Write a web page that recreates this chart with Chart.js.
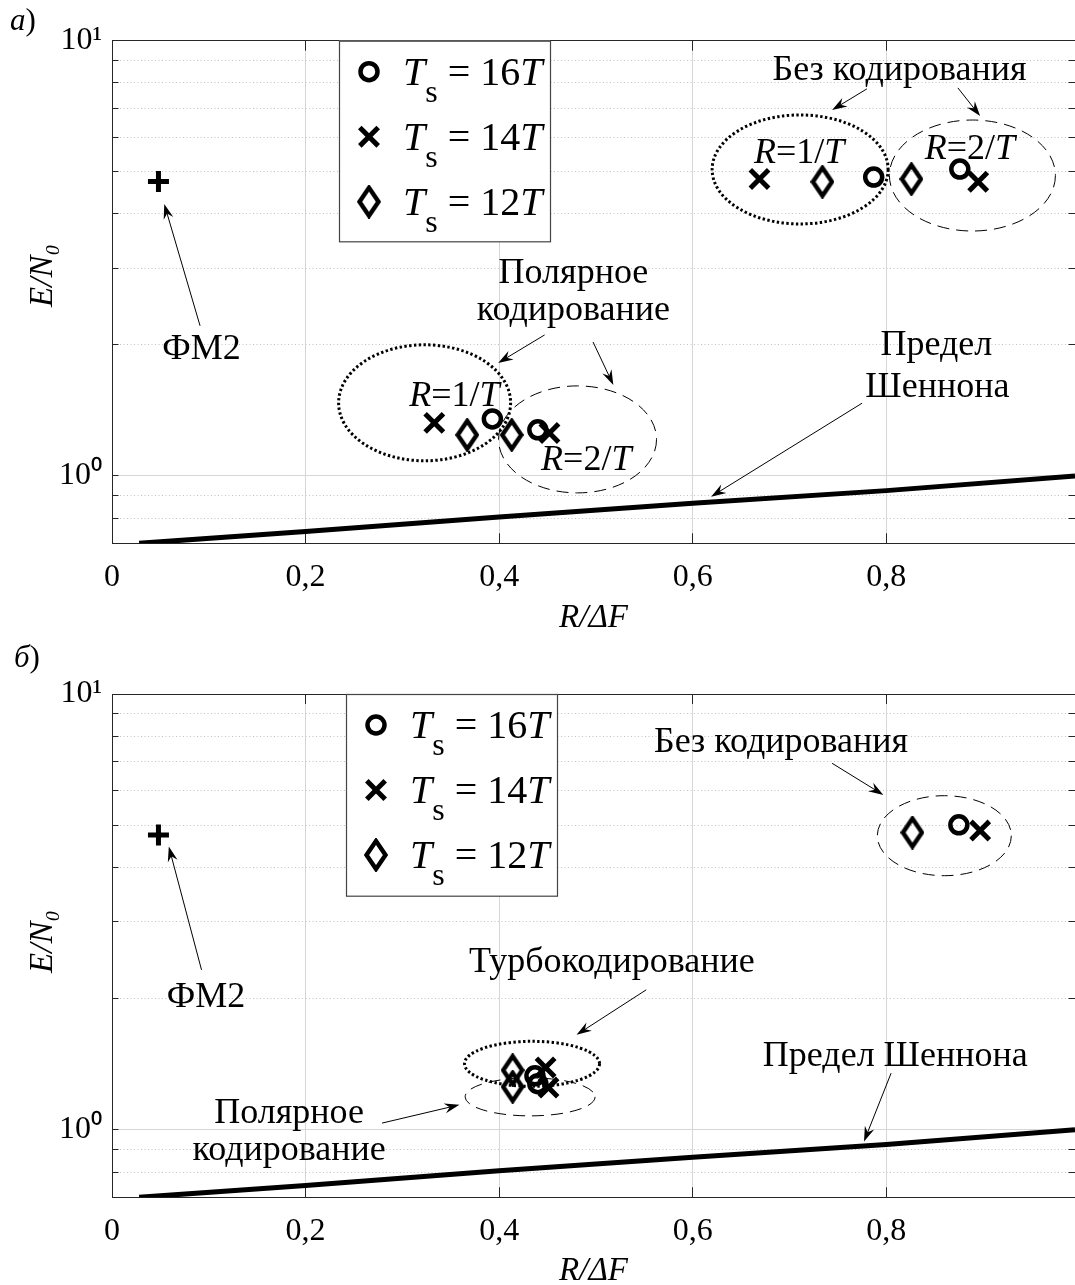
<!DOCTYPE html>
<html>
<head>
<meta charset="utf-8">
<script src="https://cdn.jsdelivr.net/npm/chart.js@4.4.0/dist/chart.umd.min.js"></script>
<style>
  body { margin: 0; background: #fff; overflow: hidden; }
  canvas { position: absolute; left: 0; }
</style>
</head>
<body>
<canvas id="chartA" width="1075" height="640" style="top:0"></canvas>
<canvas id="chartB" width="1075" height="645" style="top:640px"></canvas>
<script>
'use strict'
{
  // оси
  const xTicks = [0, 0.2, 0.4, 0.6, 0.8];
  const xTickLabels = ['0', '0,2', '0,4', '0,6', '0,8'];
  const yMajor = [1, 10];
  const yMajorLabels = ['10⁰', '10¹'];
  const yGrid = [0.8, 0.9, 1, 2, 3, 4, 5, 6, 7, 8, 9, 10];
  const legendN = [16, 14, 12];

  // ФМ2
  const bpskX = [0.048];
  const bpskY = [4.75];

  // предел Шеннона
  const shannonX = [0.028, 0.2, 0.4, 0.6, 0.8, 0.995];
  const shannonY = [0.70, 0.745, 0.805, 0.865, 0.925, 1.0];

  // а) без кодирования R=1/T, R=2/T; полярное R=1/T, R=2/T
  const rateA16 = [0.787, 0.876, 0.393, 0.440];
  const snrA16 = [4.86, 5.07, 1.352, 1.276];
  const rateA14 = [0.669, 0.895, 0.333, 0.452];
  const snrA14 = [4.81, 4.74, 1.324, 1.255];
  const rateA12 = [0.734, 0.826, 0.367, 0.413];
  const snrA12 = [4.74, 4.81, 1.242, 1.242];

  // б) без кодирования; турбо; полярное
  const rateB16 = [0.875, 0.437, 0.440];
  const snrB16 = [5.01, 1.33, 1.276];
  const rateB14 = [0.897, 0.448, 0.451];
  const snrB14 = [4.86, 1.39, 1.25];
  const rateB12 = [0.827, 0.414, 0.414];
  const snrB12 = [4.81, 1.37, 1.255];

  const SERIF = '"Liberation Serif", "Times New Roman", serif';
  const INK = '#262626';

  function diamond() {
    const c = document.createElement('canvas');
    c.width = 24; c.height = 34;
    const g = c.getContext('2d');
    g.strokeStyle = '#000';
    g.lineWidth = 4.4;
    g.beginPath();
    g.moveTo(12, 3); g.lineTo(21.5, 17); g.lineTo(12, 31); g.lineTo(2.5, 17);
    g.closePath();
    g.stroke();
    return c;
  }

  const marks = [
    {style: 'circle', r: 8.5, w: 4.5},
    {style: 'crossRot', r: 13, w: 5},
    {style: diamond(), r: 12, w: 0},
  ];
  const plus = {style: 'cross', r: 10.5, w: 5};

  function pointsOf(xs, ys) {
    return xs.map((x, i) => ({x: x, y: ys[i]}));
  }

  function markerSet(label, xs, ys, m) {
    return {
      label: label,
      data: pointsOf(xs, ys),
      showLine: false,
      pointStyle: m.style,
      pointRadius: m.r,
      pointBorderWidth: m.w,
      pointBorderColor: '#000',
      pointBackgroundColor: 'rgba(0,0,0,0)',
    };
  }

  function drawRich(ctx, x, y, segs, size, align) {
    const font = s => (s[1] ? 'italic ' : '') + (s[2] || size) + 'px ' + SERIF;
    let w = 0;
    segs.forEach(s => { ctx.font = font(s); w += ctx.measureText(s[0]).width; });
    let cx = align === 'left' ? x : x - w / 2;
    ctx.textAlign = 'left';
    ctx.textBaseline = 'alphabetic';
    segs.forEach(s => {
      ctx.font = font(s);
      ctx.fillText(s[0], cx, y + (s[3] || 0));
      cx += ctx.measureText(s[0]).width;
    });
  }

  function arrow(ctx, x1, y1, x2, y2) {
    const ang = Math.atan2(y2 - y1, x2 - x1);
    ctx.lineWidth = 1;
    ctx.beginPath();
    ctx.moveTo(x1, y1);
    ctx.lineTo(x2 - Math.cos(ang) * 9, y2 - Math.sin(ang) * 9);
    ctx.stroke();
    ctx.save();
    ctx.translate(x2, y2);
    ctx.rotate(ang);
    ctx.beginPath();
    ctx.moveTo(0, 0);
    ctx.lineTo(-15, -5);
    ctx.lineTo(-10, 0);
    ctx.lineTo(-15, 5);
    ctx.closePath();
    ctx.fill();
    ctx.restore();
  }

  const rLabel = n => [['R', 1], ['=' + n + '/'], ['T', 1]];

  function notes(cfg) {
    return {
      id: 'notes' + cfg.id,
      beforeDatasetsDraw(chart) {
        const ctx = chart.ctx;
        const xs = chart.scales.x, ys = chart.scales.y;
        ctx.save();
        ctx.strokeStyle = '#000';
        ctx.fillStyle = '#000';
        cfg.ellipses.forEach(e => {
          ctx.beginPath();
          ctx.ellipse(xs.getPixelForValue(e.x), ys.getPixelForValue(e.y), e.rx, e.ry, 0, 0, 2 * Math.PI);
          if (e.kind === 'dot') { ctx.setLineDash([2.4, 2.4]); ctx.lineWidth = 3; }
          else { ctx.setLineDash([12, 7]); ctx.lineWidth = 1; }
          ctx.stroke();
        });
        ctx.setLineDash([]);
        cfg.arrows.forEach(a => arrow(ctx,
          xs.getPixelForValue(a[0]), ys.getPixelForValue(a[1]),
          xs.getPixelForValue(a[2]), ys.getPixelForValue(a[3])));
        ctx.restore();
      },
      afterDatasetsDraw(chart) {
        const ctx = chart.ctx;
        const xs = chart.scales.x, ys = chart.scales.y;
        const area = chart.chartArea;
        ctx.save();
        ctx.fillStyle = '#000';
        cfg.texts.forEach(t => drawRich(ctx, xs.getPixelForValue(t.x), ys.getPixelForValue(t.y), t.s, 36, 'center'));

        // легенда
        const L = cfg.legend;
        const bx = area.left + L.left, by = area.top;
        ctx.fillStyle = '#fff';
        ctx.fillRect(bx, by, L.width, L.height);
        ctx.strokeStyle = '#444';
        ctx.lineWidth = 1.2;
        ctx.strokeRect(bx + 0.5, by + 0.5, L.width, L.height);
        legendN.forEach((n, i) => {
          const ry = by + 31 + 65 * i;
          const m = marks[i];
          ctx.strokeStyle = '#000';
          ctx.fillStyle = 'rgba(0,0,0,0)';
          ctx.lineWidth = m.w;
          Chart.helpers.drawPoint(ctx, {pointStyle: m.style, radius: m.r, borderWidth: m.w, rotation: 0}, bx + 30, ry);
          ctx.fillStyle = '#000';
          drawRich(ctx, bx + 64, ry + 13, [['T', 1], ['s', 0, 32, 17], [' = ' + n], ['T', 1]], 40, 'left');
        });

        drawRich(ctx, cfg.letter.x, cfg.letter.y, [[cfg.letter.t, 1], [')']], 31, 'left');
        ctx.restore();
      },
    };
  }

  function makeChart(canvasId, cfg, datasets) {
    const xMax = 0.995;
    const tickFont = {family: SERIF, size: 32, lineHeight: 1};
    const titleFont = {family: SERIF, size: 33, style: 'italic', lineHeight: 1};
    const setX = s => { s.ticks = xTicks.map(v => ({value: v})); };
    const setY = s => { s.ticks = yGrid.map(v => ({value: v, major: yMajor.includes(v)})); };
    const isMajor = c => c.tick && yMajor.includes(c.tick.value);

    return new Chart(document.getElementById(canvasId).getContext('2d'), {
      type: 'scatter',
      data: {datasets: datasets},
      options: {
        animation: false,
        responsive: false,
        events: [],
        layout: {autoPadding: false, padding: {top: cfg.top, left: 0, right: 0, bottom: 0}},
        plugins: {legend: {display: false}, tooltip: {enabled: false}},
        scales: {
          x: {
            type: 'linear', position: 'bottom', min: 0, max: xMax,
            afterBuildTicks: setX,
            afterFit: s => { s.height = cfg.xAxisH; },
            ticks: {callback: (v, i) => xTickLabels[i], font: tickFont, color: '#000', padding: 28, maxRotation: 0, autoSkip: false},
            grid: {color: '#d6d6d6', lineWidth: 1, tickLength: -10, tickColor: INK},
            border: {color: INK, width: 1},
            title: {display: true, text: 'R/ΔF', font: titleFont, color: '#000', padding: {top: 0, bottom: cfg.xTitlePad}},
          },
          x2: {
            type: 'linear', position: 'top', min: 0, max: xMax,
            afterBuildTicks: setX,
            afterFit: s => { s.height = 0; },
            ticks: {display: false},
            grid: {drawOnChartArea: false, tickLength: -10, tickColor: INK},
            border: {color: INK, width: 1},
          },
          y: {
            type: 'logarithmic', position: 'left', min: 0.7, max: 10,
            afterBuildTicks: setY,
            afterFit: s => { s.width = 112; },
            ticks: {
              callback: v => { const i = yMajor.indexOf(v); return i < 0 ? '' : yMajorLabels[i]; },
              font: tickFont, color: '#000', padding: 16.5, autoSkip: false,
            },
            grid: {color: c => isMajor(c) ? '#d6d6d6' : '#c2c2c2', lineWidth: 1, tickLength: -6.5, tickColor: INK},
            border: {color: INK, width: 1, dash: c => isMajor(c) ? [] : [1, 2.5]},
            title: {display: true, text: cfg.yTitle, font: titleFont, color: '#000', padding: {top: 26.5, bottom: 0}},
          },
          y2: {
            type: 'logarithmic', position: 'right', min: 0.7, max: 10,
            afterBuildTicks: setY,
            afterFit: s => { s.width = 0; },
            ticks: {display: false},
            grid: {drawOnChartArea: false, tickLength: -6.5, tickColor: INK},
            border: {display: false},
          },
        },
      },
      plugins: [notes(cfg)],
    });
  }

  function shannonSet() {
    return {
      label: 'Предел Шеннона',
      data: pointsOf(shannonX, shannonY),
      showLine: true,
      pointRadius: 0,
      borderColor: '#000',
      borderWidth: 5,
      tension: 0,
    };
  }

  const panelA = {
    id: 'A', top: 40.7, xAxisH: 96.7, xTitlePad: 5, yTitle: '    E/N₀',
    letter: {t: 'а', x: 10, y: 30},
    legend: {left: 227, width: 211, height: 200.6},
    ellipses: [
      {x: 0.711, y: 5.06, rx: 88, ry: 54.5, kind: 'dot'},
      {x: 0.889, y: 4.90, rx: 83, ry: 55.5, kind: 'dash'},
      {x: 0.323, y: 1.472, rx: 86, ry: 58, kind: 'dot'},
      {x: 0.481, y: 1.213, rx: 79, ry: 53.5, kind: 'dash'},
    ],
    arrows: [
      [0.780, 7.75, 0.744, 6.93],
      [0.874, 7.79, 0.897, 6.71],
      [0.447, 2.108, 0.399, 1.818],
      [0.497, 2.031, 0.518, 1.618],
      [0.091, 2.212, 0.054, 4.216],
      [0.775, 1.469, 0.619, 0.896],
    ],
    texts: [
      {x: 0.8137, y: 8.12, s: [['Без кодирования']]},
      {x: 0.710, y: 5.24, s: rLabel(1)},
      {x: 0.8864, y: 5.35, s: rLabel(2)},
      {x: 0.3538, y: 1.448, s: rLabel(1)},
      {x: 0.490, y: 1.032, s: rLabel(2)},
      {x: 0.4768, y: 2.776, s: [['Полярное']]},
      {x: 0.4768, y: 2.282, s: [['кодирование']]},
      {x: 0.0925, y: 1.857, s: [['ФМ2']]},
      {x: 0.8517, y: 1.897, s: [['Предел']]},
      {x: 0.8528, y: 1.521, s: [['Шеннона']]},
    ],
  };

  const panelB = {
    id: 'B', top: 54, xAxisH: 87.7, xTitlePad: -3, yTitle: ' E/N₀',
    letter: {t: 'б', x: 14, y: 27},
    legend: {left: 234, width: 211, height: 201.7},
    ellipses: [
      {x: 0.860, y: 4.73, rx: 67, ry: 40, kind: 'dash'},
      {x: 0.434, y: 1.417, rx: 67.5, ry: 22.5, kind: 'dot'},
      {x: 0.432, y: 1.19, rx: 65, ry: 19, kind: 'dash'},
    ],
    arrows: [
      [0.744, 6.935, 0.797, 5.867],
      [0.552, 2.095, 0.480, 1.652],
      [0.279, 1.036, 0.359, 1.141],
      [0.805, 1.349, 0.777, 0.940],
      [0.0925, 2.328, 0.0587, 4.465],
    ],
    texts: [
      {x: 0.6913, y: 7.375, s: [['Без кодирования']]},
      {x: 0.5165, y: 2.304, s: [['Турбокодирование']]},
      {x: 0.183, y: 1.037, s: [['Полярное']]},
      {x: 0.183, y: 0.853, s: [['кодирование']]},
      {x: 0.8093, y: 1.402, s: [['Предел Шеннона']]},
      {x: 0.0971, y: 1.915, s: [['ФМ2']]},
    ],
  };

  makeChart('chartA', panelA, [
    shannonSet(),
    markerSet('ФМ2', bpskX, bpskY, plus),
    markerSet('Ts = 16T', rateA16, snrA16, marks[0]),
    markerSet('Ts = 14T', rateA14, snrA14, marks[1]),
    markerSet('Ts = 12T', rateA12, snrA12, marks[2]),
  ]);

  makeChart('chartB', panelB, [
    shannonSet(),
    markerSet('ФМ2', bpskX, bpskY, plus),
    markerSet('Ts = 16T', rateB16, snrB16, marks[0]),
    markerSet('Ts = 14T', rateB14, snrB14, marks[1]),
    markerSet('Ts = 12T', rateB12, snrB12, marks[2]),
  ]);
}
</script>
</body>
</html>
